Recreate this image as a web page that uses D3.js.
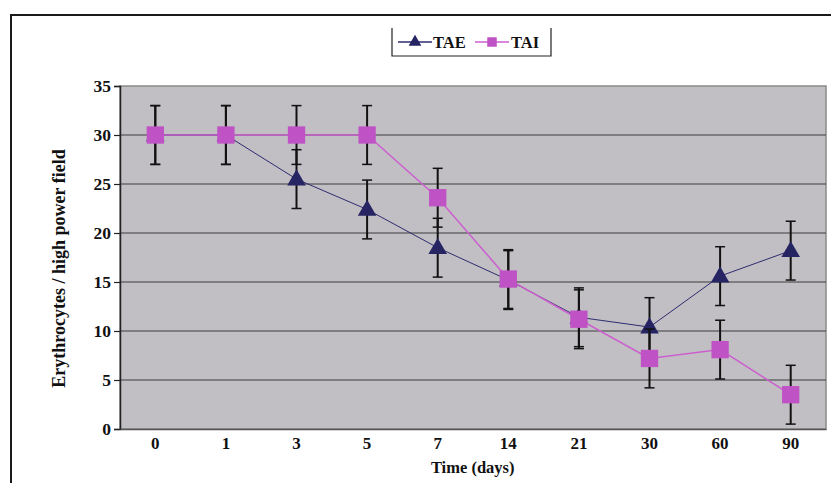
<!DOCTYPE html>
<html>
<head>
<meta charset="utf-8">
<script src="https://cdn.jsdelivr.net/npm/d3@7"></script>
<style>
  body { margin: 0; background: #fff; }
  svg text { font-family: "Liberation Serif", "Times New Roman", serif; font-weight: bold; fill: #111; }
</style>
</head>
<body>
<div id="chart"></div>
<script>
// Erythrocytes per high power field over time, TAE vs TAI

const days = ["0", "1", "3", "5", "7", "14", "21", "30", "60", "90"]
const taeValues = [30, 30, 25.5, 22.4, 18.5, 15.2, 11.4, 10.4, 15.6, 18.2]
const taeErrors = [3, 3, 3, 3, 3, 3, 3, 3, 3, 3]
const taiValues = [30, 30, 30, 30, 23.6, 15.3, 11.2, 7.2, 8.1, 3.5]
const taiErrors = [3, 3, 3, 3, 3, 3, 3, 3, 3, 3]
const yTicks = [0, 5, 10, 15, 20, 25, 30, 35]

const W = 831
const H = 483
const margin = { top: 86, right: 5, bottom: 54, left: 120 }
const width = W - margin.left - margin.right
const height = H - margin.top - margin.bottom

const svg = d3.select("#chart").append("svg").attr("width", W).attr("height", H)

// outer frame (top + left only visible)
svg.append("path")
  .attr("d", `M11,483 L11,15 L831,15`)
  .style("fill", "none")
  .style("stroke", "#1a1a1a")
  .style("stroke-width", 2)

const g = svg.append("g").attr("transform", `translate(${margin.left},${margin.top})`)

const x = d3.scaleBand().domain(days).range([0, width])
const y = d3.scaleLinear().domain([0, 35]).range([height, 0])
const cx = (d) => x(d) + x.bandwidth() / 2

// plot background
g.append("rect")
  .attr("width", width)
  .attr("height", height)
  .style("fill", "#c1bfc3")
  .style("stroke", "#8a8a8a")
  .style("stroke-width", 1.5)

// gridlines
g.selectAll(".grid")
  .data(yTicks.filter((t) => t > 0 && t < 35))
  .enter()
  .append("line")
  .attr("x1", 0)
  .attr("x2", width)
  .attr("y1", (d) => y(d))
  .attr("y2", (d) => y(d))
  .style("stroke", "#3c3c3c")
  .style("stroke-width", 1.2)

// y axis
const yAxis = g.append("g")
  .call(d3.axisLeft(y).tickValues(yTicks).tickSize(6).tickPadding(3))
yAxis.select(".domain").style("stroke", "#222").style("stroke-width", 1.5)
yAxis.selectAll(".tick line").style("stroke", "#222").style("stroke-width", 1.2)
yAxis.selectAll("text").style("font-size", "17.5px").style("font-family", "Liberation Serif, serif").style("font-weight", "bold").attr("fill", "#111")

// x axis labels
const xAxis = g.append("g")
  .attr("transform", `translate(0,${height})`)
  .call(d3.axisBottom(x).tickSize(0).tickPadding(8))
xAxis.select(".domain").style("stroke", "#555").style("stroke-width", 1.5)
xAxis.selectAll("text").style("font-size", "17px").style("font-family", "Liberation Serif, serif").style("font-weight", "bold").attr("fill", "#111")

// axis titles
g.append("text")
  .attr("transform", "rotate(-90)")
  .attr("x", -(height / 2 + 11))
  .attr("y", -61)
  .attr("dy", "0.35em")
  .style("text-anchor", "middle")
  .style("font-size", "18px")
  .text("Erythrocytes / high power field")

g.append("text")
  .attr("x", cx("7") + 35)
  .attr("y", height + 44)
  .style("text-anchor", "middle")
  .style("font-size", "16.5px")
  .text("Time (days)")

const series = [
  { name: "TAE", values: taeValues, errors: taeErrors, color: "#262463", lineColor: "#2e2c6e", lineWidth: 1, marker: "triangle" },
  { name: "TAI", values: taiValues, errors: taiErrors, color: "#bf52c4", lineColor: "#cc5fcf", lineWidth: 1.5, marker: "square" },
]

const line = d3.line().x((d) => cx(d.day)).y((d) => y(d.v))

const triangle = d3.symbol().type(d3.symbolTriangle).size(150)
const square = d3.symbol().type(d3.symbolSquare).size(300)

series.forEach((s) => {
  const pts = days.map((day, i) => ({ day, v: s.values[i], e: s.errors[i] }))
  const sg = g.append("g").attr("class", `series ${s.name}`)

  sg.append("path")
    .datum(pts)
    .attr("d", line)
    .style("fill", "none")
    .style("stroke", s.lineColor)
    .style("stroke-width", s.lineWidth)

  // error bars
  const eb = sg.selectAll(".err").data(pts).enter().append("g")
  eb.append("line")
    .attr("x1", (d) => cx(d.day)).attr("x2", (d) => cx(d.day))
    .attr("y1", (d) => y(d.v + d.e)).attr("y2", (d) => y(d.v - d.e))
    .style("stroke", "#111").style("stroke-width", 2)
  eb.append("line")
    .attr("x1", (d) => cx(d.day) - 5).attr("x2", (d) => cx(d.day) + 5)
    .attr("y1", (d) => y(d.v + d.e)).attr("y2", (d) => y(d.v + d.e))
    .style("stroke", "#111").style("stroke-width", 1.5)
  eb.append("line")
    .attr("x1", (d) => cx(d.day) - 5).attr("x2", (d) => cx(d.day) + 5)
    .attr("y1", (d) => y(d.v - d.e)).attr("y2", (d) => y(d.v - d.e))
    .style("stroke", "#111").style("stroke-width", 1.5)

  sg.selectAll(".pt")
    .data(pts)
    .enter()
    .append("path")
    .attr("transform", (d) => `translate(${cx(d.day)},${y(d.v) + (s.marker === "triangle" ? 1 : 0)})`)
    .attr("d", s.marker === "triangle" ? triangle : square)
    .style("fill", s.color)
})

// legend
const lg = svg.append("g").attr("transform", "translate(392,28)")
lg.append("path")
  .attr("d", "M0,0 L0,28 L159,28 L159,0")
  .style("fill", "none")
  .style("stroke", "#222")
  .style("stroke-width", 1.2)

const legendItems = [
  { name: "TAE", x0: 6, color: "#262463", lineColor: "#2e2c6e", sym: d3.symbol().type(d3.symbolTriangle).size(70), tx: 41 },
  { name: "TAI", x0: 83, color: "#bf52c4", lineColor: "#cc5fcf", sym: d3.symbol().type(d3.symbolSquare).size(90), tx: 119 },
]
legendItems.forEach((it) => {
  lg.append("line")
    .attr("x1", it.x0).attr("x2", it.x0 + 34)
    .attr("y1", 14).attr("y2", 14)
    .style("stroke", it.lineColor)
    .style("stroke-width", 1.3)
  lg.append("path")
    .attr("transform", `translate(${it.x0 + 17},14)`)
    .attr("d", it.sym)
    .style("fill", it.color)
  lg.append("text")
    .attr("x", it.tx)
    .attr("y", 14)
    .attr("dy", "0.35em")
    .style("font-size", "16.5px")
    .text(it.name)
})
</script>
</body>
</html>
